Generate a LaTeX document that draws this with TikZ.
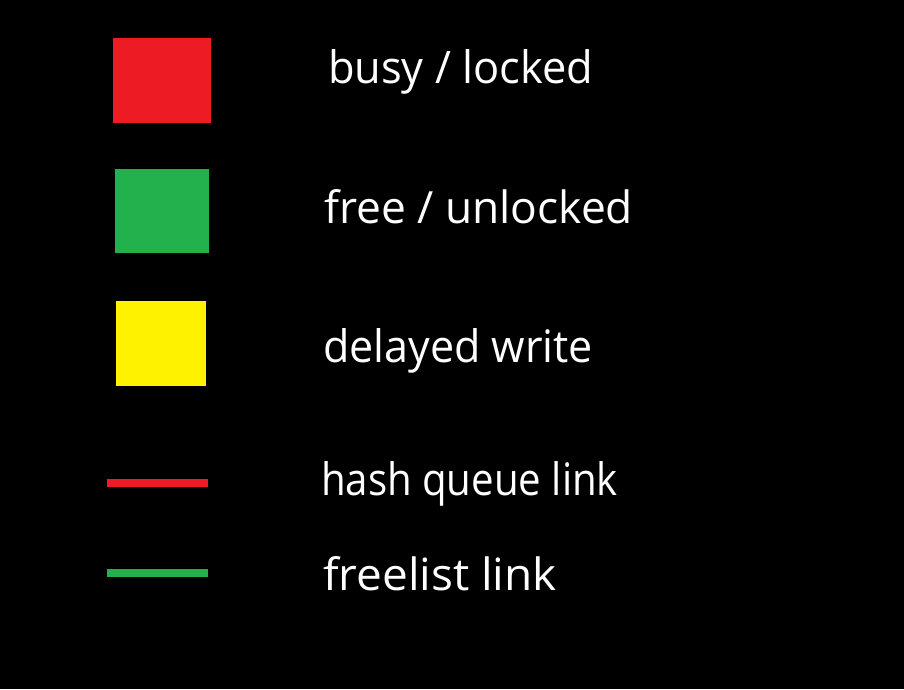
\documentclass[tikz,border=0pt]{standalone}
\usepackage{fontspec}
\setmainfont{Open Sans}
\usepackage{graphicx}
\definecolor{pred}{HTML}{ED1C24}
\definecolor{pgreen}{HTML}{22B14C}
\definecolor{pyellow}{HTML}{FFF200}
\tikzset{
  swatch/.style={inner sep=0pt, outer sep=0pt},
  lbl/.style={text=white, inner sep=0pt, outer sep=0pt, anchor=base west, font=\fontsize{44}{50}\selectfont},
  linkline/.style={line width=8pt, line cap=butt}
}
\newcommand{\fitlbl}[2]{\resizebox{#1}{34pt}{#2}}
\begin{document}
\begin{tikzpicture}[x=1pt,y=-1pt]
\fill[black] (0,0) rectangle (904,689);
\useasboundingbox (0,0) rectangle (904,689);
% swatches
\fill[pred] (113,38) rectangle (211,123);
\node[swatch] (busy) at (162,80.5) {};
\fill[pgreen] (115,169) rectangle (209,253);
\node[swatch] (free) at (162,211) {};
\fill[pyellow] (116,301) rectangle (206,386);
\node[swatch] (delayed) at (161,343.5) {};
% link lines
\coordinate (h1) at (107,483);
\coordinate (h2) at (208,483);
\draw[linkline, pred] (h1) -- (h2);
\coordinate (f1) at (107,573);
\coordinate (f2) at (208,573);
\draw[linkline, pgreen] (f1) -- (f2);
% labels
\node[lbl] (t1) at (328,83) {\fitlbl{265pt}{busy / locked}};
\node[lbl] (t2) at (324,223) {\fitlbl{309pt}{free / unlocked}};
\node[lbl] (t3) at (323,362) {\fitlbl{270pt}{delayed write}};
\node[lbl] (t4) at (321,495) {\fitlbl{297pt}{hash queue link}};
\node[lbl] (t5) at (323,590) {\fitlbl{234pt}{freelist link}};
\end{tikzpicture}
\end{document}
